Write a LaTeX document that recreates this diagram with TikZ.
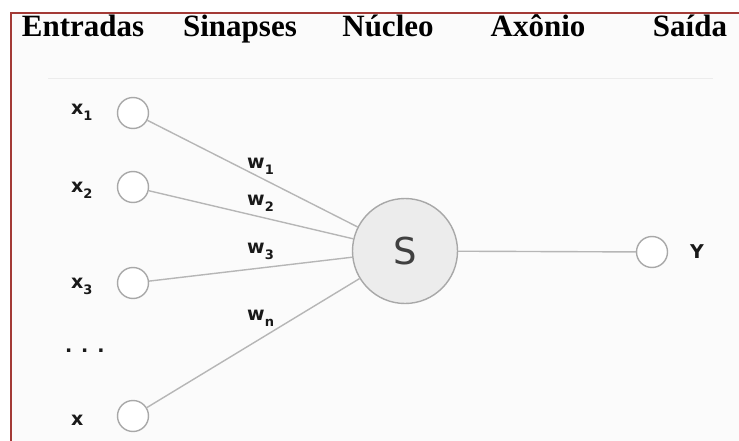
\documentclass[tikz,border=0pt]{standalone}
\usepackage{fontspec}
\setmainfont{Liberation Serif}
\newfontfamily\labelfont{DejaVu Sans}
\usetikzlibrary{positioning}

\definecolor{framered}{HTML}{A33A36}
\definecolor{linkgray}{HTML}{B6B6B6}
\definecolor{ringgray}{HTML}{A8A8A8}
\definecolor{somafill}{HTML}{ECECEC}
\definecolor{panelbg}{HTML}{FBFBFB}

\newcommand\lowsub[1]{\raisebox{-6pt}{\fontsize{13}{13}\selectfont #1}}

\begin{document}
\begin{tikzpicture}[
        x=1pt, y=-1pt,
        heading/.style={
            font=\fontsize{31}{36}\selectfont\bfseries,
            anchor=base, inner sep=0pt
        },
        inputnode/.style={
            circle, draw=ringgray, line width=1.4pt,
            fill=white, minimum size=31pt, inner sep=0pt
        },
        somanode/.style={
            circle, draw=ringgray, line width=1.4pt,
            fill=somafill, minimum size=105pt, inner sep=0pt,
            font=\labelfont\fontsize{37}{40}\selectfont, text=black!75
        },
        varlabel/.style={
            font=\labelfont\bfseries\fontsize{19}{21}\selectfont,
            anchor=base west, inner sep=0pt, text=black!90
        },
        link/.style={draw=linkgray, line width=1.4pt}
    ]

    \useasboundingbox (0,0) rectangle (739,441);
    \fill[panelbg] (11,13) rectangle (739,441);
    \draw[framered, line width=2pt] (11,441) -- (11,13) -- (739,13);

    \node[heading] (hin)   at (83,37)  {Entradas};
    \node[heading] (hsyn)  at (240,37) {Sinapses};
    \node[heading] (hnuc)  at (388,37) {Núcleo};
    \node[heading] (haxon) at (538,37) {Axônio};
    \node[heading] (hout)  at (690,37) {Saída};

    \coordinate (rulel) at (48,79);
    \coordinate (ruler) at (713,79);
    \draw[gray!15, line width=1pt] (rulel) -- (ruler);

    \node[inputnode] (x1) at (133,113) {};
    \node[inputnode] (x2) at (133,187) {};
    \node[inputnode] (x3) at (133,283) {};
    \node[inputnode] (xn) at (133,416) {};
    \node[somanode]  (soma) at (405,251) {S};
    \node[inputnode] (y) at (652,252) {};

    \node[varlabel] (lx1) at (71,115) {x\lowsub{1}};
    \node[varlabel] (lx2) at (71,192) {x\lowsub{2}};
    \node[varlabel] (lx3) at (71,288) {x\lowsub{3}};
    \node[varlabel] (ldots) at (65,352) {. . .};
    \node[varlabel] (lxn) at (71,425) {x};
    \node[varlabel] (ly) at (690,258) {Y};

    \node[varlabel] (w1) at (247,168) {w\lowsub{1}};
    \node[varlabel] (w2) at (247,205) {w\lowsub{2}};
    \node[varlabel] (w3) at (247,253) {w\lowsub{3}};
    \node[varlabel] (wn) at (247,320) {w\lowsub{n}};

    \draw[link] (x1) -- (soma);
    \draw[link] (x2) -- (soma);
    \draw[link] (x3) -- (soma);
    \draw[link] (xn) -- (soma);
    \draw[link] (soma) -- (y);

\end{tikzpicture}
\end{document}
